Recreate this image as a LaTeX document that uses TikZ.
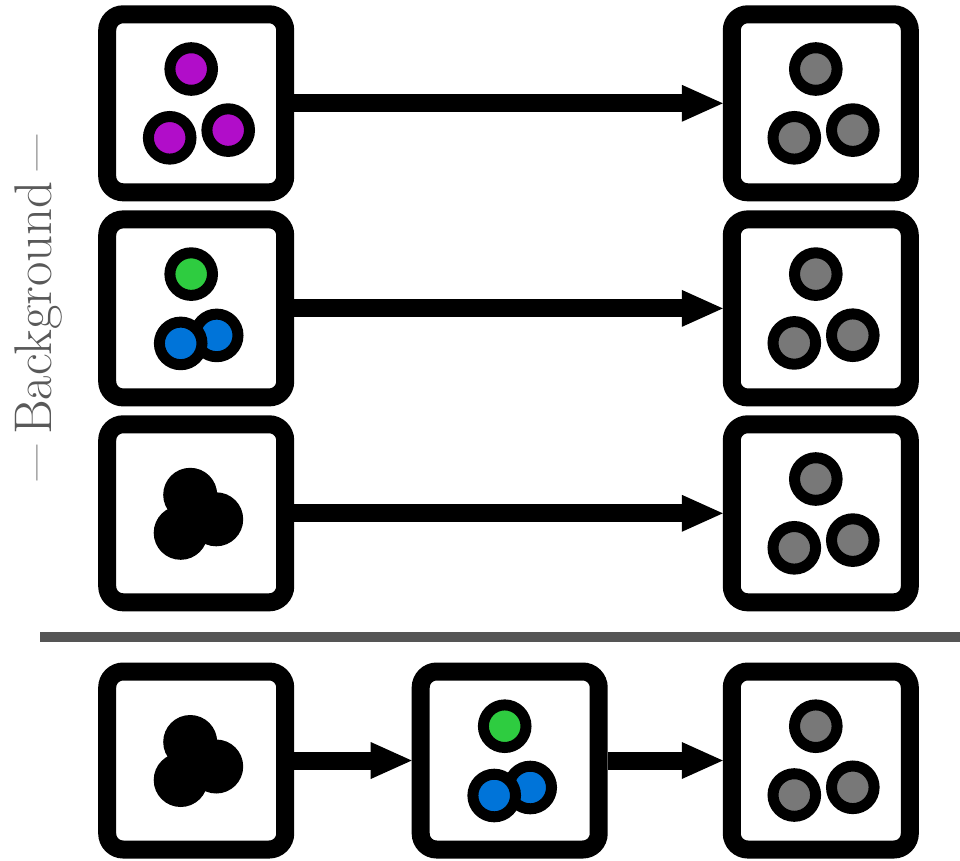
\documentclass[tikz,border=0pt]{standalone}
\usepackage{graphicx}
\usetikzlibrary{arrows.meta}
\definecolor{cpurple}{HTML}{B10DC9}
\definecolor{cgreen}{HTML}{2ECC40}
\definecolor{cblue}{HTML}{0074D9}
\definecolor{cgray}{HTML}{787878}
\definecolor{txtgray}{HTML}{595959}
\definecolor{sepgray}{HTML}{555555}
\tikzset{
  stagebox/.style={draw=black, fill=white, line width=18pt, rounded corners=16pt,
    minimum size=178pt, inner sep=0pt, rectangle},
  ball/.style={circle, draw=black, line width=11pt, minimum size=42.6pt, inner sep=0pt},
  blobball/.style={circle, fill=black, minimum size=54pt, inner sep=0pt},
  flow/.style={line width=18pt, -{Triangle[length=41pt,width=37pt,line width=0pt]}},
}
\newcommand\mytrio[2]{%
  \node[ball, fill=#2] (#1t) at ([shift={(-5,-34.3)}]#1.center) {};
  \node[ball, fill=#2] (#1l) at ([shift={(-26.5,34.5)}]#1.center) {};
  \node[ball, fill=#2] (#1r) at ([shift={(32,26.8)}]#1.center) {};}
\newcommand\mymix[1]{%
  \node[ball, fill=cgreen] (#1t) at ([shift={(-5,-34.3)}]#1.center) {};
  \node[ball, fill=cblue] (#1r) at ([shift={(20.5,27)}]#1.center) {};
  \node[ball, fill=cblue] (#1l) at ([shift={(-15.5,35)}]#1.center) {};}
\newcommand\myblob[1]{%
  \node[blobball] (#1t) at ([shift={(-6,-18.5)}]#1.center) {};
  \node[blobball] (#1l) at ([shift={(-15.5,19.5)}]#1.center) {};
  \node[blobball] (#1r) at ([shift={(20,6)}]#1.center) {};}
\begin{document}
\begin{tikzpicture}[x=1pt,y=-1pt]
\useasboundingbox[fill=white] (0,0) rectangle (960,860);
% boxes
\node[stagebox] (a1) at (196.2,103.3) {};
\node[stagebox] (b1) at (820.8,103.3) {};
\node[stagebox] (a2) at (196.2,308.4) {};
\node[stagebox] (b2) at (820.8,308.4) {};
\node[stagebox] (a3) at (196.2,513.3) {};
\node[stagebox] (b3) at (820.8,513.3) {};
\node[stagebox] (a4) at (196.2,760.5) {};
\node[stagebox] (m4) at (509.7,760.5) {};
\node[stagebox] (b4) at (820.8,760.5) {};
% contents
\mytrio{a1}{cpurple}
\mytrio{b1}{cgray}
\mymix{a2}
\mytrio{b2}{cgray}
\myblob{a3}
\mytrio{b3}{cgray}
\myblob{a4}
\mymix{m4}
\mytrio{b4}{cgray}
% arrows
\draw[flow] (a1.east) -- (b1.west);
\draw[flow] (a2.east) -- (b2.west);
\draw[flow] (a3.east) -- (b3.west);
\draw[flow] (a4.east) -- (m4.west);
\draw[flow] (m4.east) -- (b4.west);
% separator
\coordinate (sepL) at (40,637);
\coordinate (sepR) at (960,637);
\draw[line width=10pt, sepgray] (sepL) -- (sepR);
% label
\node[rotate=90, anchor=base, text=txtgray, inner sep=0pt,
  font=\fontsize{53}{64}\selectfont] (lbl) at (51,308)
  {\scalebox{0.72}[1]{—}\hspace{0.2em}Background\hspace{0.2em}\scalebox{0.72}[1]{—}};
\end{tikzpicture}
\end{document}
